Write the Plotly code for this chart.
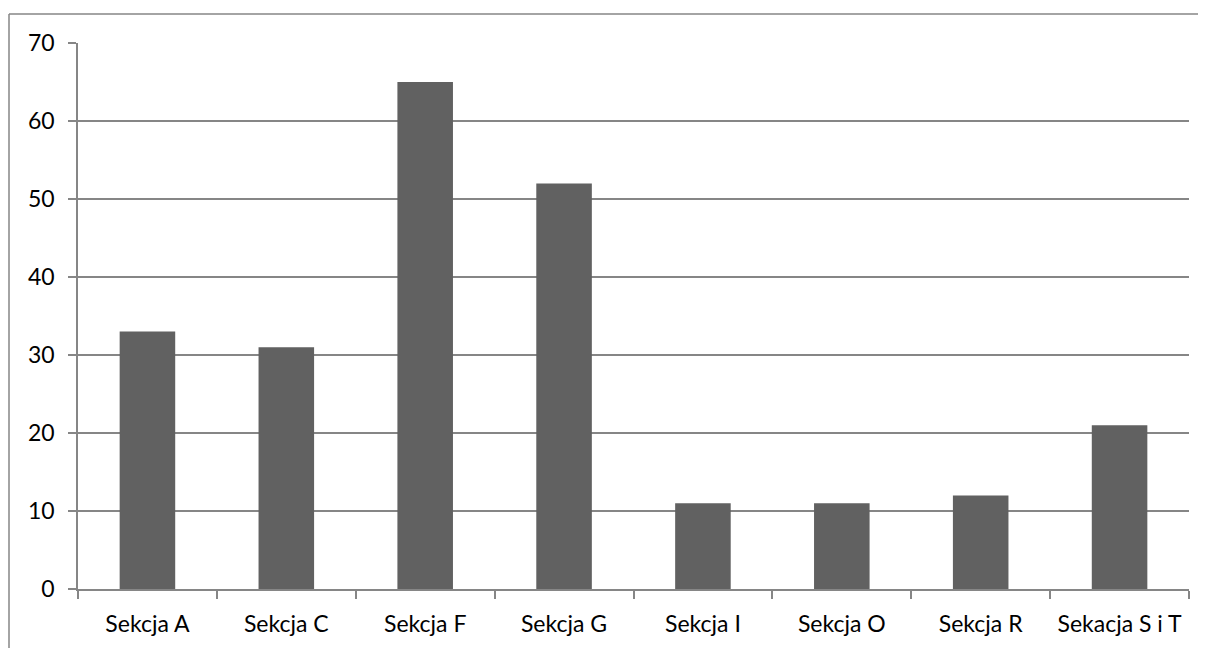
import plotly.graph_objects as go

categories = ["Sekcja A", "Sekcja C", "Sekcja F", "Sekcja G", "Sekcja I", "Sekcja O", "Sekcja R", "Sekacja S i T"]
values = [33, 31, 65, 52, 11, 11, 12, 21]
y_ticks = [0, 10, 20, 30, 40, 50, 60, 70]

# page body has an 8px margin; figure sized to fill the window exactly
OFF = 8
W, H = 1206 - OFF, 648 - OFF
L, R, T, B = 78 - OFF, 17, 43 - OFF, 59
pw, ph = W - L - R, H - T - B

fig = go.Figure(go.Bar(x=categories, y=values, marker=dict(color="#616161", line=dict(width=0)), width=0.4))

axis_col = "#868686"
font = dict(family="Lato, Liberation Sans, sans-serif", size=23, color="#000000")

# outer border in figure pixel coords
bx, by = 9 - OFF, 14 - OFF

fig.update_layout(
    width=W, height=H,
    margin=dict(l=L, r=R, t=T, b=B, autoexpand=False),
    paper_bgcolor="white", plot_bgcolor="white",
    showlegend=False,
    font=font,
    xaxis=dict(
        type="category", showgrid=False, showline=True, linecolor=axis_col, linewidth=1.5,
        ticks="outside", tickson="boundaries", ticklen=8, tickcolor=axis_col, tickwidth=1.5,
        range=[-0.5, 7.5], tickfont=font, ticklabelstandoff=14,
    ),
    yaxis=dict(
        range=[0, 70], tickvals=y_ticks, showgrid=True, gridcolor=axis_col, gridwidth=1.5,
        showline=True, linecolor=axis_col, linewidth=1.5, zeroline=False,
        ticks="outside", ticklen=8, tickcolor=axis_col, tickwidth=1.5, tickfont=font,
        ticklabelstandoff=9,
    ),
    shapes=[
        dict(type="line", xref="paper", yref="paper",
             x0=(bx - L) / pw, x1=(W + 10 - L) / pw, y0=(H - by - B) / ph, y1=(H - by - B) / ph,
             line=dict(color=axis_col, width=1.5)),
        dict(type="line", xref="paper", yref="paper",
             x0=(bx - L) / pw, x1=(bx - L) / pw, y0=(H - by - B) / ph, y1=(-10 - B) / ph,
             line=dict(color=axis_col, width=1.5)),
    ],
)

fig.write_html("out.html")
